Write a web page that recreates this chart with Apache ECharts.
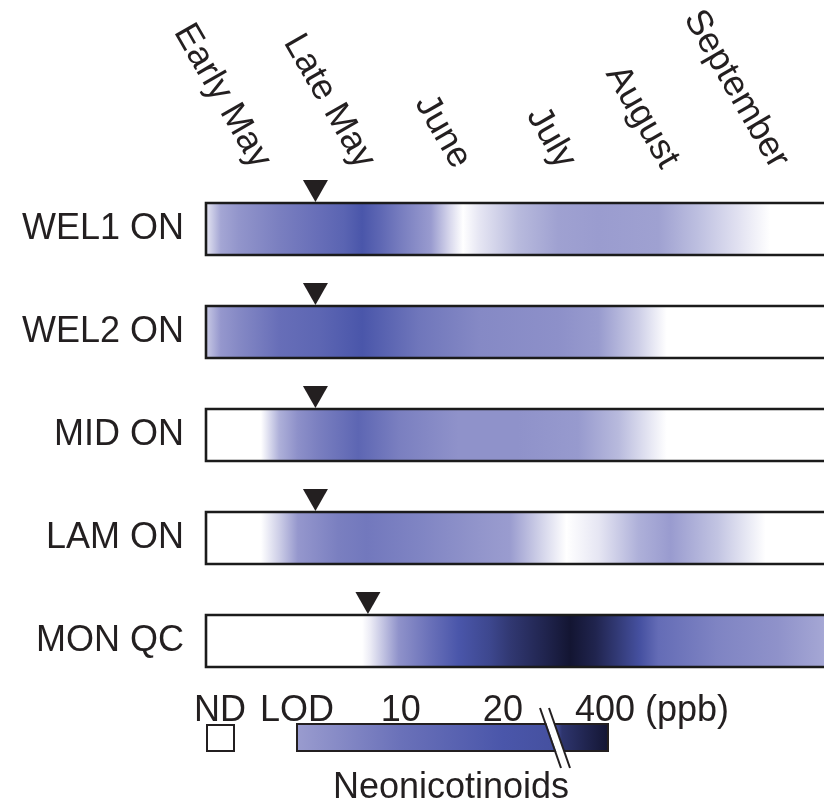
<!DOCTYPE html>
<html>
<head>
<meta charset="utf-8">
<script src="https://cdn.jsdelivr.net/npm/echarts@6/dist/echarts.min.js"></script>
<style>
  html, body { margin: 0; padding: 0; background: #ffffff; }
  #chart { width: 824px; height: 806px; }
</style>
</head>
<body>
<div id="chart"></div>
<script>
// Sampling sites, top to bottom
const sites = ['WEL1 ON', 'WEL2 ON', 'MID ON', 'LAM ON', 'MON QC'];

// Season axis (0-100 across the strip) and its period labels
const X_MIN = 0;
const X_MAX = 100;
const periodLabels = ['Early May', 'Late May', 'June', 'July', 'August', 'September'];
const periodPositions = [8.75, 25, 40, 56.4, 72.5, 89.7];

// Planting date for each site (position on the season axis)
const plantingPositions = [17.1, 17.1, 17.1, 17.1, 25.3];

// Neonicotinoid concentration (ppb) along the season, per site
const wel1Pos = [0, 2.5, 5.3, 11.6, 17.7, 21.7, 24.5, 27.2, 30.2, 35.2, 38.1, 40.2, 42.7, 48.8, 55, 61.3, 70.6, 76.7, 83, 88, 100];
const wel1Ppb = [0.2, 0.9, 2.5, 7, 11, 15, 20, 14, 8, 1.2, 0.4, 0, 0.25, 0.7, 0.95, 1.0, 0.95, 0.65, 0.3, 0, 0];

const wel2Pos = [0, 2.5, 5.3, 11.6, 17.8, 24.5, 33.3, 42.7, 55, 61.3, 67.5, 71.9, 100];
const wel2Ppb = [0.5, 2, 5, 11, 14, 20, 9, 5, 3.5, 1.3, 0.5, 0, 0];

const midPos = [0, 8.75, 11.6, 14.5, 17.7, 23.9, 30.2, 39.5, 48.8, 58.1, 64.4, 71.9, 100];
const midPpb = [0, 0, 0.8, 3.5, 7, 14, 7, 3, 3, 1.5, 0.7, 0, 0];

const lamPos = [0, 8.75, 11.6, 14.5, 20.8, 25.2, 33.3, 42.7, 47.5, 51.9, 56.3, 61.3, 67.5, 72.5, 79.8, 87.3, 100];
const lamPpb = [0, 0, 0.5, 2, 7, 8.5, 6, 2.5, 1, 0.5, 0, 0.25, 0.8, 1.2, 0.6, 0, 0];

const monPos = [0, 24.5, 25.8, 30.2, 35, 39.5, 44.4, 47.5, 53, 56.9, 60.8, 64.4, 67.8, 70.6, 79.8, 89.2, 96.1, 100];
const monPpb = [0, 0, 0.2, 3, 10, 20, 40, 80, 200, 400, 200, 70, 25, 12, 6, 3, 0.9, 0.6];

const profiles = [
  { pos: wel1Pos, ppb: wel1Ppb },
  { pos: wel2Pos, ppb: wel2Ppb },
  { pos: midPos, ppb: midPpb },
  { pos: lamPos, ppb: lamPpb },
  { pos: monPos, ppb: monPpb }
];

// Colour scale: ND (white), LOD, 10, 20, 400 ppb
const scaleValues = [0, 1, 10, 20, 400];
const scaleColors = ['#ffffff', '#9a9ccf', '#6a71b9', '#4a56aa', '#131532'];

// Legend tick labels and where they sit along the colour bar (0-1)
const legendLabels = ['LOD', '10', '20', '400 (ppb)'];
const legendValues = [1, 10, 20, 400];
const legendOffsets = [0, 0.334, 0.662, 1];

const FONT = '"Liberation Sans", Arial, Helvetica, sans-serif';
const INK = '#231f20';

function hexToRgb(h) {
  const n = parseInt(h.slice(1), 16);
  return [(n >> 16) & 255, (n >> 8) & 255, n & 255];
}
function mix(a, b, t) {
  const ca = hexToRgb(a), cb = hexToRgb(b);
  const c = ca.map((v, i) => Math.round(v + (cb[i] - v) * t));
  return 'rgb(' + c.join(',') + ')';
}
function colorOf(v) {
  if (v <= scaleValues[0]) return scaleColors[0];
  const last = scaleValues.length - 1;
  if (v >= scaleValues[last]) return scaleColors[last];
  for (let i = 0; i < last; i++) {
    const a = scaleValues[i], b = scaleValues[i + 1];
    if (v >= a && v <= b) {
      // the top segment (20-400 ppb) is compressed logarithmically
      const t = (i === last - 1) ? Math.log(v / a) / Math.log(b / a) : (v - a) / (b - a);
      return mix(scaleColors[i], scaleColors[i + 1], t);
    }
  }
  return scaleColors[last];
}

function renderStrip(params, api) {
  const row = api.value(1);
  const start = api.coord([X_MIN, row]);
  const end = api.coord([X_MAX, row]);
  const h = api.size([0, 1])[1] * 0.505;
  const prof = profiles[row];
  const stops = prof.pos.map((p, i) => ({
    offset: (p - X_MIN) / (X_MAX - X_MIN),
    color: colorOf(prof.ppb[i])
  }));
  return {
    type: 'rect',
    shape: { x: start[0], y: start[1] - h / 2, width: end[0] - start[0], height: h },
    style: {
      fill: new echarts.graphic.LinearGradient(0, 0, 1, 0, stops),
      stroke: '#1b1b1b',
      lineWidth: 2.6
    }
  };
}

function renderMarker(params, api) {
  const p = api.coord([api.value(0), api.value(1)]);
  const h = api.size([0, 1])[1] * 0.505;
  const tip = p[1] - h / 2 - 1;
  return {
    type: 'polygon',
    shape: { points: [[p[0], tip], [p[0] - 12.5, tip - 22], [p[0] + 12.5, tip - 22]] },
    style: { fill: INK }
  };
}

// Legend: ND box, colour bar with axis break, labels
const barLeft = 297, barRight = 608, barTop = 724, barH = 27;
const legendStops = [
  { offset: 0, color: colorOf(legendValues[0]) },
  { offset: legendOffsets[1], color: colorOf(legendValues[1]) },
  { offset: legendOffsets[2], color: colorOf(legendValues[2]) },
  { offset: 0.83, color: colorOf(26) },
  { offset: 0.85, color: colorOf(90) },
  { offset: 1, color: colorOf(legendValues[3]) }
];
const legendGraphics = [
  { type: 'rect', shape: { x: 207, y: 725, width: 27, height: 26 },
    style: { fill: '#ffffff', stroke: INK, lineWidth: 2 } },
  { type: 'text', x: 220, y: 711,
    style: { text: 'ND', font: '36px ' + FONT, fill: INK, align: 'center', verticalAlign: 'middle' } },
  { type: 'rect', shape: { x: barLeft, y: barTop, width: barRight - barLeft, height: barH },
    style: { fill: new echarts.graphic.LinearGradient(0, 0, 1, 0, legendStops), stroke: INK, lineWidth: 2 } },
  { type: 'polygon', shape: { points: [[541, 708], [549, 708], [570, 768], [562, 768]] },
    style: { fill: '#ffffff' } },
  { type: 'line', shape: { x1: 540, y1: 708, x2: 561, y2: 768 }, style: { stroke: INK, lineWidth: 2 } },
  { type: 'line', shape: { x1: 549, y1: 708, x2: 570, y2: 768 }, style: { stroke: INK, lineWidth: 2 } },
  { type: 'text', x: 451, y: 788,
    style: { text: 'Neonicotinoids', font: '36px ' + FONT, fill: INK, align: 'center', verticalAlign: 'middle' } }
];
legendLabels.forEach((lab, i) => {
  const x = barLeft + legendOffsets[i] * (barRight - barLeft);
  const isLast = i === legendLabels.length - 1;
  legendGraphics.push({
    type: 'text', x: isLast ? x - 33 : x, y: 711,
    style: { text: lab, font: '36px ' + FONT, fill: INK, align: isLast ? 'left' : 'center', verticalAlign: 'middle' }
  });
});

const chart = echarts.init(document.getElementById('chart'), null, { renderer: 'canvas' });
chart.setOption({
  backgroundColor: '#ffffff',
  animation: false,
  grid: { left: 206, top: 177.5, width: 640, height: 515, outerBoundsMode: 'none', containLabel: false },
  xAxis: {
    type: 'value',
    position: 'top',
    min: X_MIN,
    max: X_MAX,
    axisLine: { show: false },
    axisTick: { show: false },
    splitLine: { show: false },
    axisLabel: {
      customValues: periodPositions,
      formatter: function (v) {
        let best = 0;
        periodPositions.forEach((p, i) => { if (Math.abs(p - v) < Math.abs(periodPositions[best] - v)) best = i; });
        return periodLabels[best];
      },
      rotate: 60,
      align: 'right',
      verticalAlign: 'middle',
      margin: 12,
      fontSize: 36,
      fontFamily: FONT,
      color: INK,
      hideOverlap: false
    }
  },
  yAxis: {
    type: 'category',
    data: sites,
    inverse: true,
    axisLine: { show: false },
    axisTick: { show: false },
    splitLine: { show: false },
    axisLabel: { margin: 22, fontSize: 36, fontFamily: FONT, color: INK }
  },
  series: [
    {
      type: 'custom',
      renderItem: renderStrip,
      data: sites.map((s, i) => [X_MIN, i]),
      clip: false
    },
    {
      type: 'custom',
      renderItem: renderMarker,
      data: plantingPositions.map((p, i) => [p, i]),
      clip: false
    }
  ],
  graphic: legendGraphics
});
</script>
</body>
</html>
